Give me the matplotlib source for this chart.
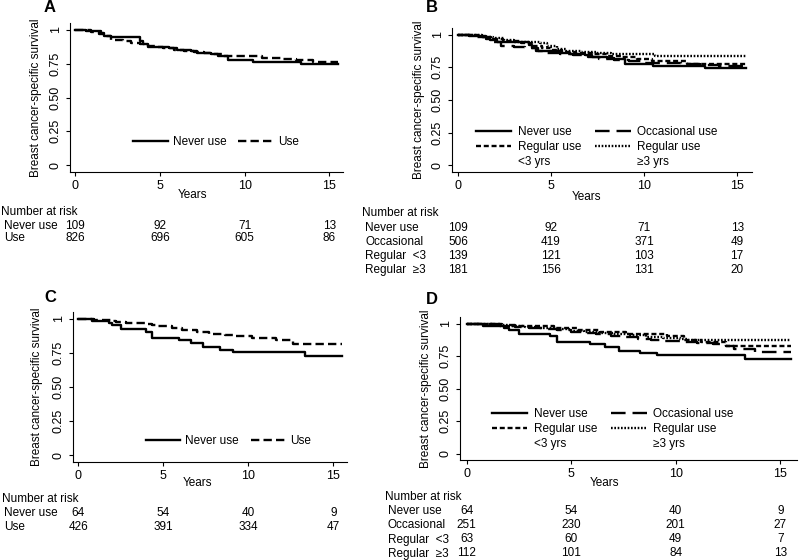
import matplotlib
matplotlib.use("Agg")
import matplotlib.pyplot as plt
from matplotlib.lines import Line2D
from matplotlib.transforms import blended_transform_factory

plt.rcParams["font.family"] = ["Liberation Sans", "DejaVu Sans"]
plt.rcParams["lines.scale_dashes"] = False

# ---- survival step data ----
# never use, full cohort (A, B)
never_ab_t = [0, 0.6, 1.5, 1.7, 2.1, 3.8, 4.0, 4.3, 5.5, 6.0, 6.8, 7.2, 8.0, 8.4, 9.0, 10.5, 13.3, 15.5]
never_ab_s = [1.0, 0.988, 0.976, 0.956, 0.944, 0.92, 0.895, 0.871, 0.862, 0.853, 0.84, 0.83, 0.82, 0.81, 0.775, 0.762, 0.745, 0.745]
use_a_t = [0, 0.4, 0.9, 1.4, 1.8, 2.1, 2.8, 3.3, 3.8, 4.3, 4.7, 5.2, 5.8, 6.4, 7.0, 7.6, 8.2, 8.8, 10.0, 11.0, 12.2, 13.0, 14.0, 15.5]
use_a_s = [1.0, 0.995, 0.985, 0.97, 0.955, 0.925, 0.915, 0.905, 0.895, 0.882, 0.87, 0.862, 0.852, 0.843, 0.835, 0.826, 0.818, 0.81, 0.803, 0.795, 0.787, 0.775, 0.765, 0.765]
occ_b_t = [0, 0.5, 1.0, 1.5, 1.8, 2.3, 3.0, 3.6, 4.2, 4.8, 5.5, 6.2, 7.0, 7.6, 8.4, 9.2, 10.0, 11.0, 12.0, 13.0, 14.0, 15.5]
occ_b_s = [1.0, 0.995, 0.985, 0.965, 0.945, 0.915, 0.905, 0.895, 0.875, 0.86, 0.848, 0.84, 0.83, 0.815, 0.805, 0.795, 0.785, 0.78, 0.775, 0.768, 0.762, 0.762]
reg_lt3_b_t = [0, 0.8, 1.3, 1.8, 2.4, 3.4, 4.0, 4.5, 5.0, 5.6, 6.3, 7.2, 8.0, 8.8, 9.6, 10.4, 12.3, 15.5]
reg_lt3_b_s = [1.0, 0.993, 0.985, 0.964, 0.95, 0.935, 0.914, 0.9, 0.885, 0.87, 0.86, 0.85, 0.835, 0.825, 0.81, 0.8, 0.778, 0.778]
reg_ge3_b_t = [0, 0.7, 1.3, 1.9, 2.5, 3.0, 4.4, 4.8, 5.3, 5.8, 6.6, 7.4, 8.2, 10.6, 15.5]
reg_ge3_b_s = [1.0, 0.994, 0.983, 0.972, 0.961, 0.945, 0.934, 0.91, 0.89, 0.878, 0.867, 0.856, 0.85, 0.834, 0.834]

# never use, sub cohort (C, D)
never_cd_t = [0, 0.8, 1.8, 2.0, 2.5, 4.0, 4.3, 5.9, 6.6, 7.3, 8.3, 9.1, 13.3, 15.5]
never_cd_s = [1.0, 0.984, 0.969, 0.953, 0.922, 0.906, 0.86, 0.844, 0.822, 0.792, 0.771, 0.754, 0.725, 0.725]
use_c_t = [0, 0.9, 1.9, 2.2, 2.8, 3.9, 4.3, 4.7, 5.5, 6.1, 7.0, 7.7, 8.6, 9.1, 10.2, 11.6, 12.6, 15.5]
use_c_s = [1.0, 0.99, 0.985, 0.978, 0.97, 0.96, 0.952, 0.944, 0.93, 0.915, 0.9, 0.89, 0.883, 0.877, 0.856, 0.847, 0.812, 0.812]
occ_d_t = [0, 1.0, 1.7, 2.3, 3.0, 3.7, 4.3, 5.0, 5.6, 6.2, 6.9, 7.5, 8.2, 8.8, 9.4, 10.2, 11.0, 11.8, 12.4, 12.8, 13.8, 15.5]
occ_d_s = [1.0, 0.996, 0.988, 0.976, 0.968, 0.956, 0.948, 0.936, 0.924, 0.916, 0.904, 0.896, 0.884, 0.876, 0.868, 0.856, 0.848, 0.84, 0.828, 0.806, 0.78, 0.78]
reg_lt3_d_t = [0, 1.6, 2.8, 4.2, 5.3, 6.4, 7.6, 9.6, 10.4, 11.2, 12.4, 15.5]
reg_lt3_d_s = [1.0, 0.984, 0.984, 0.968, 0.952, 0.937, 0.921, 0.905, 0.873, 0.857, 0.829, 0.829]
reg_ge3_d_t = [0, 1.2, 2.0, 2.8, 3.5, 4.2, 4.9, 5.6, 6.3, 7.0, 7.8, 8.6, 9.4, 10.2, 10.6, 15.5]
reg_ge3_d_s = [1.0, 0.991, 0.982, 0.973, 0.964, 0.955, 0.946, 0.937, 0.927, 0.918, 0.909, 0.9, 0.891, 0.882, 0.872, 0.872]

# ---- number at risk ----
risk_times = [0, 5, 10, 15]
labels_two = ["Never use", "Use"]
labels_four = ["Never use", "Occasional", "Regular  <3", "Regular  \u22653"]
risk_a = [[109, 92, 71, 13], [826, 696, 605, 86]]
risk_b = [[109, 92, 71, 13], [506, 419, 371, 49], [139, 121, 103, 17], [181, 156, 131, 20]]
risk_c = [[64, 54, 40, 9], [426, 391, 334, 47]]
risk_d = [[64, 54, 40, 9], [251, 230, 201, 27], [63, 60, 49, 7], [112, 101, 84, 13]]

STY = {
    "never": "-",
    "use": (0, (6, 3)),
    "occ": (0, (10.5, 5)),
    "lt3": (0, (3.6, 2)),
    "ge3": (0, (1.2, 1.2)),
}
FS = 8.5
LW = 1.7
W, H = 800, 560

fig = plt.figure(figsize=(8, 5.6), dpi=100)


def add_axes(l, r, t, b):
    return fig.add_axes([l / W, 1 - b / H, (r - l) / W, (b - t) / H])


def style_axes(ax, ylab_x, xlab_x, xlab_y):
    ax.set_xlim(-0.32, 15.8)
    ax.set_ylim(-0.05, 1.05)
    for s in ["top", "right"]:
        ax.spines[s].set_visible(False)
    for s in ["left", "bottom"]:
        ax.spines[s].set_linewidth(0.8)
    ax.set_xticks(risk_times)
    ax.set_yticks([0, 0.25, 0.5, 0.75, 1])
    ax.set_yticklabels(["0", "0.25", "0.50", "0.75", "1"])
    ax.tick_params(direction="out", length=3, width=0.8, labelsize=FS + 0.5, pad=3)
    for lab in ax.get_yticklabels():
        lab.set_rotation(90)
        lab.set_va("center")
    ax.set_ylabel("Breast cancer-specific survival", fontsize=FS, va="center", ha="center")
    ax.yaxis.set_label_coords(ylab_x, 0.5)
    ax.set_xlabel("Years", fontsize=FS, va="center")
    ax.xaxis.set_label_coords(xlab_x, xlab_y)


def km(ax, t, s, key):
    ax.step(t, s, where="post", color="black", lw=LW, ls=STY[key])


def risk_table(ax, x_head, x_rows, y_head, y_rows, labels, rows):
    fig.text(x_head / W, 1 - y_head / H, "Number at risk", fontsize=FS, va="center")
    tr = blended_transform_factory(ax.transData, fig.transFigure)
    for lab, y, vals in zip(labels, y_rows, rows):
        fig.text(x_rows / W, 1 - y / H, lab, fontsize=FS, va="center")
        for tt, v in zip(risk_times, vals):
            ax.text(tt, 1 - y / H, str(v), transform=tr, fontsize=FS, ha="center", va="center")


def legend_two(ax, x, y):
    h = [Line2D([], [], color="black", lw=LW, ls=STY["never"]),
         Line2D([], [], color="black", lw=LW, ls=STY["use"])]
    ax.legend(h, ["Never use", "Use"], ncol=2, loc="center left", bbox_to_anchor=(x, y),
              frameon=False, borderpad=0, borderaxespad=0, handlelength=2.9,
              handletextpad=0.45, columnspacing=1.0, fontsize=FS)


def legend_four(ax, x, y):
    blank = Line2D([], [], color="none")
    h = [Line2D([], [], color="black", lw=LW, ls=STY["never"]),
         Line2D([], [], color="black", lw=LW, ls=STY["lt3"]), blank,
         Line2D([], [], color="black", lw=LW, ls=STY["occ"]),
         Line2D([], [], color="black", lw=LW, ls=STY["ge3"]), blank]
    labs = ["Never use", "Regular use", "<3 yrs", "Occasional use", "Regular use", "\u22653 yrs"]
    ax.legend(h, labs, ncol=2, loc="center left", bbox_to_anchor=(x, y),
              frameon=False, borderpad=0, borderaxespad=0, handlelength=3.0,
              handletextpad=0.55, columnspacing=1.2, labelspacing=0.25, fontsize=FS)


# ---- A ----
axA = add_axes(70, 343, 23, 172)
km(axA, never_ab_t, never_ab_s, "never")
km(axA, use_a_t, use_a_s, "use")
style_axes(axA, -0.125, 0.45, -0.154)
legend_two(axA, 0.232, 0.203)
risk_table(axA, 1, 4, 212, [226, 238.5], labels_two, risk_a)
fig.text(50 / W, 1 - 8 / H, "A", fontsize=12, fontweight="bold", ha="center", va="center")

# ---- B ----
axB = add_axes(452, 752, 28, 172)
km(axB, never_ab_t, never_ab_s, "never")
km(axB, occ_b_t, occ_b_s, "occ")
km(axB, reg_lt3_b_t, reg_lt3_b_s, "lt3")
km(axB, reg_ge3_b_t, reg_ge3_b_s, "ge3")
style_axes(axB, -0.11, 0.449, -0.174)
legend_four(axB, 0.08, 0.176)
risk_table(axB, 362, 365, 212.5, [228, 242, 256, 270], labels_four, risk_b)
fig.text(432 / W, 1 - 8 / H, "B", fontsize=12, fontweight="bold", ha="center", va="center")

# ---- C ----
axC = add_axes(73, 347, 312, 462)
km(axC, never_cd_t, never_cd_s, "never")
km(axC, use_c_t, use_c_s, "use")
style_axes(axC, -0.13, 0.453, -0.14)
legend_two(axC, 0.265, 0.142)
risk_table(axC, 2, 4, 499, [513, 527], labels_two, risk_c)
fig.text(50 / W, 1 - 298 / H, "C", fontsize=12, fontweight="bold", ha="center", va="center")

# ---- D ----
axD = add_axes(460, 797, 317, 460)
km(axD, never_cd_t, never_cd_s, "never")
km(axD, occ_d_t, occ_d_s, "occ")
km(axD, reg_lt3_d_t, reg_lt3_d_s, "lt3")
km(axD, reg_ge3_d_t, reg_ge3_d_s, "ge3")
style_axes(axD, -0.10, 0.43, -0.16)
legend_four(axD, 0.094, 0.217)
risk_table(axD, 385, 388, 497.5, [511.5, 525.5, 539.5, 553.5], labels_four, risk_d)
fig.text(432 / W, 1 - 300 / H, "D", fontsize=12, fontweight="bold", ha="center", va="center")

fig.savefig("out.png", dpi=100)
